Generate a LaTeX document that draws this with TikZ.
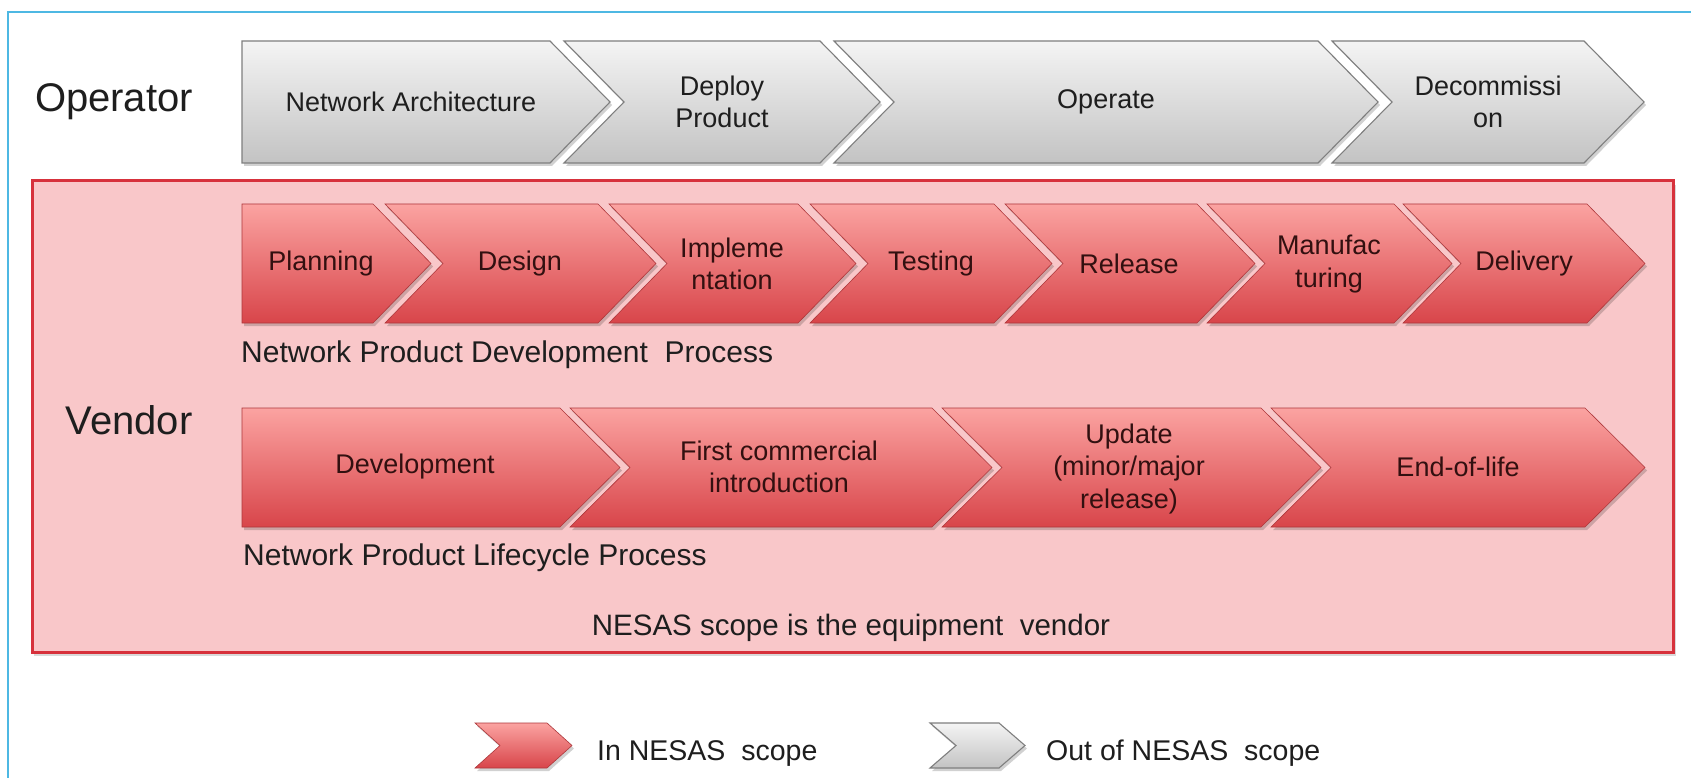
\documentclass[tikz,border=0pt]{standalone}
\usepackage{fontspec}
\setmainfont{Liberation Sans}
\definecolor{frameblue}{HTML}{4DB8E3}
\definecolor{boxfill}{HTML}{F9C7C9}
\definecolor{boxline}{HTML}{D7313C}
\definecolor{redtop}{HTML}{FBA3A1}
\definecolor{redbot}{HTML}{D8454A}
\definecolor{greytop}{HTML}{F4F4F4}
\definecolor{greybot}{HTML}{C3C3C3}
\definecolor{greyline}{HTML}{7F7F7F}
\definecolor{redtext}{HTML}{321010}
\definecolor{darktext}{HTML}{1E1E1E}
\newcommand\chevfirst[6]{%
  \fill[black,opacity=0.18,xshift=2pt,yshift=-3pt] (#1,#4) -- (#2,#4) -- ({#2+#3},{(#4+#5)/2}) -- (#2,#5) -- (#1,#5) -- cycle;
  \shadedraw[#6] (#1,#4) -- (#2,#4) -- ({#2+#3},{(#4+#5)/2}) -- (#2,#5) -- (#1,#5) -- cycle;}
\newcommand\chevnext[6]{%
  \fill[black,opacity=0.18,xshift=2pt,yshift=-3pt] (#1,#4) -- (#2,#4) -- ({#2+#3},{(#4+#5)/2}) -- (#2,#5) -- (#1,#5) -- ({#1+#3},{(#4+#5)/2}) -- cycle;
  \shadedraw[#6] (#1,#4) -- (#2,#4) -- ({#2+#3},{(#4+#5)/2}) -- (#2,#5) -- (#1,#5) -- ({#1+#3},{(#4+#5)/2}) -- cycle;}
\begin{document}
\begin{tikzpicture}[x=1pt,y=-1pt,
  redchev/.style={top color=redtop,bottom color=redbot,draw=redbot!80!black,line width=0.6pt},
  greychev/.style={top color=greytop,bottom color=greybot,draw=greyline,line width=1.1pt},
  chevtext/.style={inner sep=0pt,align=center,font=\fontsize{27}{32.5}\selectfont},
  redtxt/.style={chevtext,text=redtext},
  greytxt/.style={chevtext,text=darktext},
  bigtxt/.style={inner sep=0pt,text=darktext,font=\fontsize{40}{45}\selectfont},
  lbltxt/.style={inner sep=0pt,text=darktext,anchor=west,font=\fontsize{30}{35}\selectfont},
  legtxt/.style={inner sep=0pt,text=darktext,anchor=west,font=\fontsize{28.5}{33}\selectfont}]
\useasboundingbox (0,0) rectangle (1691,778);
\fill[white] (0,0) rectangle (1691,778);
% frame
\draw[frameblue,line width=2pt] (8,778) -- (8,12) -- (1691,12);
% operator row
\node[bigtxt] (operator) at (114,102) {Operator};
\chevfirst{242}{550}{60}{41}{163}{greychev}
\chevnext{564}{820}{60}{41}{163}{greychev}
\chevnext{834}{1318}{60}{41}{163}{greychev}
\chevnext{1332}{1584}{60}{41}{163}{greychev}
\node[greytxt] (na) at (411,102) {Network Architecture};
\node[greytxt] (deploy) at (722,102) {Deploy\\Product};
\node[greytxt] (operate) at (1106,102) {Operate};
\node[greytxt] (decom) at (1488,102) {Decommissi\\on};
% vendor box
\fill[black,opacity=0.15] (34,185) rectangle (1676,656);
\draw[boxline,fill=boxfill,line width=3pt] (32,181) rectangle (1673,652);
\node[bigtxt] (vendor) at (129,420) {Vendor};
% row 1
\chevfirst{242}{373}{58}{204}{323}{redchev}
\chevnext{385}{598}{58}{204}{323}{redchev}
\chevnext{609}{798}{58}{204}{323}{redchev}
\chevnext{810}{994}{58}{204}{323}{redchev}
\chevnext{1005}{1197}{58}{204}{323}{redchev}
\chevnext{1207}{1394}{58}{204}{323}{redchev}
\chevnext{1403}{1587}{58}{204}{323}{redchev}
\node[redtxt] (planning) at (321,264) {Planning};
\node[redtxt] (design) at (520,264) {Design};
\node[redtxt] (impl) at (732,264) {Impleme\\ntation};
\node[redtxt] (testing) at (931,264) {Testing};
\node[redtxt] (release) at (1129,264) {Release};
\node[redtxt] (manuf) at (1329,264) {Manufac\\turing};
\node[redtxt] (delivery) at (1524,264) {Delivery};
\node[lbltxt] (npdp) at (241,355) {Network Product Development\ \ Process};
% row 2
\chevfirst{242}{560}{60}{408}{527}{redchev}
\chevnext{570}{932}{60}{408}{527}{redchev}
\chevnext{942}{1261}{60}{408}{527}{redchev}
\chevnext{1271}{1585}{60}{408}{527}{redchev}
\node[redtxt] (devel) at (415,467) {Development};
\node[redtxt] (fci) at (779,467) {First commercial\\introduction};
\node[redtxt] (update) at (1129,469) {Update\\(minor/major\\release)};
\node[redtxt] (eol) at (1458,467) {End-of-life};
\node[lbltxt] (nplp) at (243,558) {Network Product Lifecycle Process};
\node[inner sep=0pt,text=darktext,font=\fontsize{29.5}{34}\selectfont] (scope) at (851,628) {NESAS scope is the equipment\ \ vendor};
% legend
\chevnext{475}{547}{25}{723}{768}{redchev}
\chevnext{930}{999}{26}{723}{768}{greychev}
\node[legtxt] (inleg) at (597,753) {In NESAS\ \ scope};
\node[legtxt] (outleg) at (1046,753) {Out of NESAS\ \ scope};
\end{tikzpicture}
\end{document}
